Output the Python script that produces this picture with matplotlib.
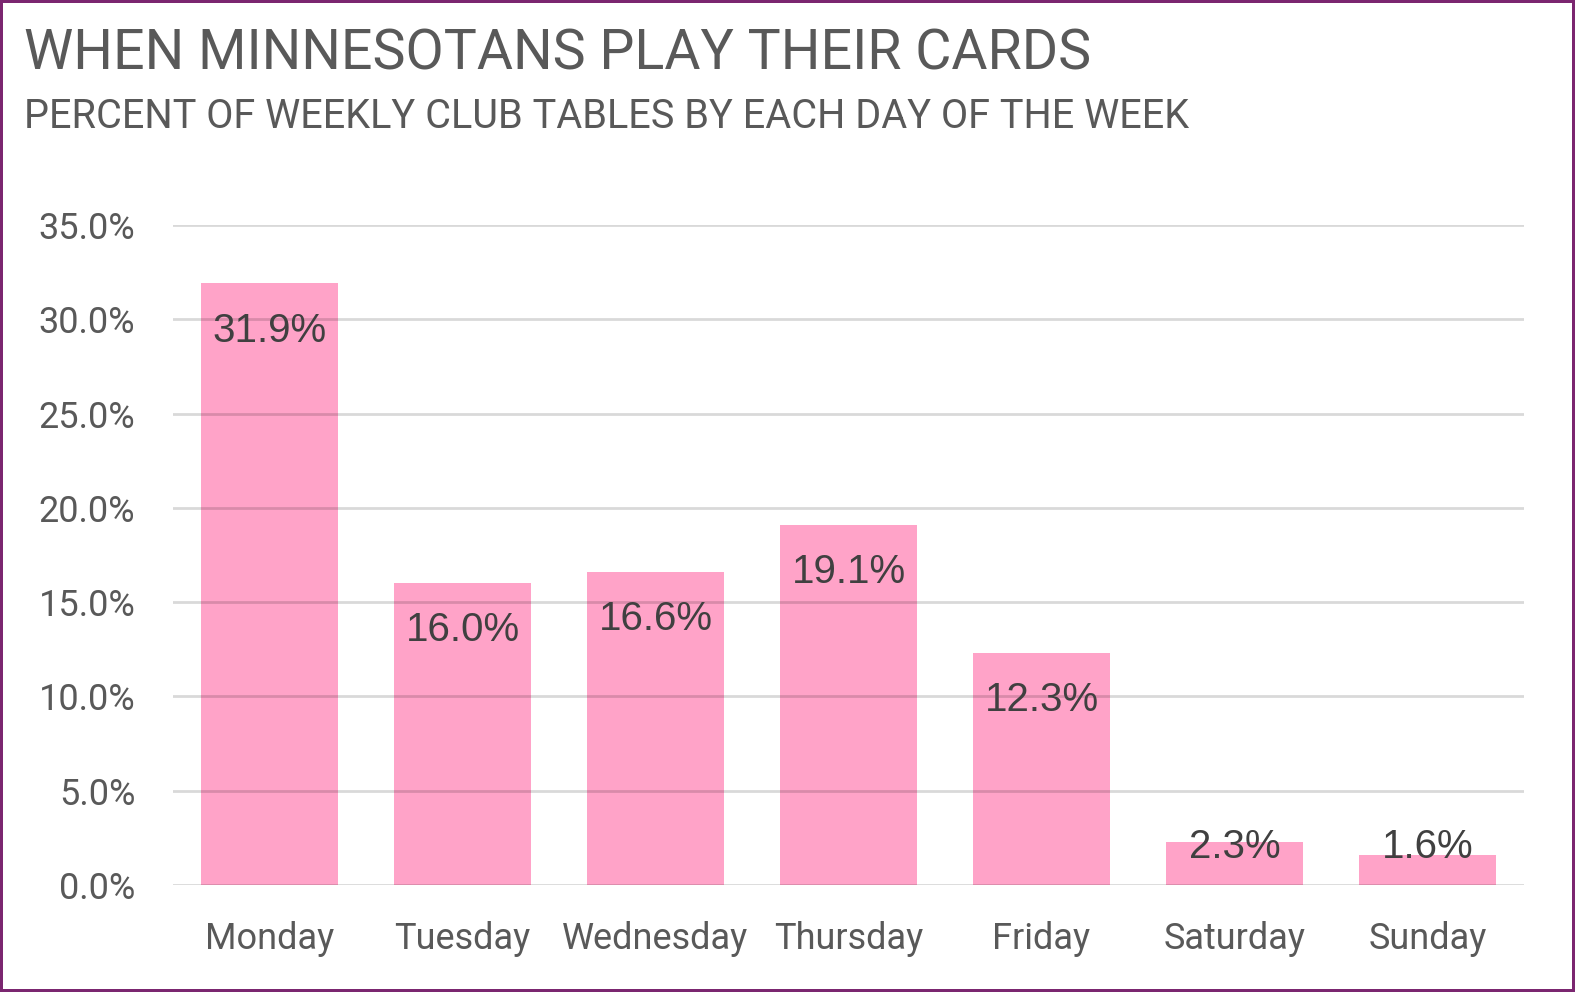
import matplotlib.pyplot as plt
import numpy as np

days = ["Monday", "Tuesday", "Wednesday", "Thursday", "Friday", "Saturday", "Sunday"]
share = [31.9, 16.0, 16.6, 19.1, 12.3, 2.3, 1.6]
yticks = [0, 5, 10, 15, 20, 25, 30, 35]

title = "WHEN MINNESOTANS PLAY THEIR CARDS"
subtitle = "PERCENT OF WEEKLY CLUB TABLES BY EACH DAY OF THE WEEK"

grey = "#595959"

fig = plt.figure(figsize=(15.75, 9.92), dpi=100)
fig.patch.set_edgecolor("#7B2670")
fig.patch.set_linewidth(3)

ax = fig.add_axes([0.1098, 0.1079, 0.8578, 0.6653])
x = np.arange(len(days))
ax.bar(x, share, width=0.714, color="#FFA3C8", zorder=1)

ax.set_xlim(-0.5, len(days) - 0.5)
ax.set_ylim(0, 35)
ax.set_yticks(yticks, [f"{t:.1f}%" for t in yticks])
ax.set_xticks(x, days)
# gridlines sit over the bars, semi-transparent
ax.grid(axis="y", color="black", alpha=0.15, linewidth=2, zorder=2)
ax.set_axisbelow(False)
for s in ax.spines.values():
    s.set_visible(False)
ax.tick_params(length=0, labelcolor=grey)
ax.tick_params(axis="y", labelsize=26, pad=27)
ax.tick_params(axis="x", labelsize=26, pad=26)
for lab in ax.get_xticklabels() + ax.get_yticklabels():
    lab.set_fontfamily("Roboto")

for xi, v in zip(x, share):
    ax.text(xi, max(v - 2.5, 2.0), f"{v:.1f}%", ha="center", va="center",
            fontsize=29, color="#404040", family="Liberation Sans", zorder=3)

fig.text(0.0155, 0.93, title, fontsize=40, color=grey, family="Roboto", va="baseline")
fig.text(0.0155, 0.871, subtitle, fontsize=28.5, color=grey, family="Roboto", va="baseline")

fig.savefig("out.png", dpi=100, edgecolor=fig.get_edgecolor())
